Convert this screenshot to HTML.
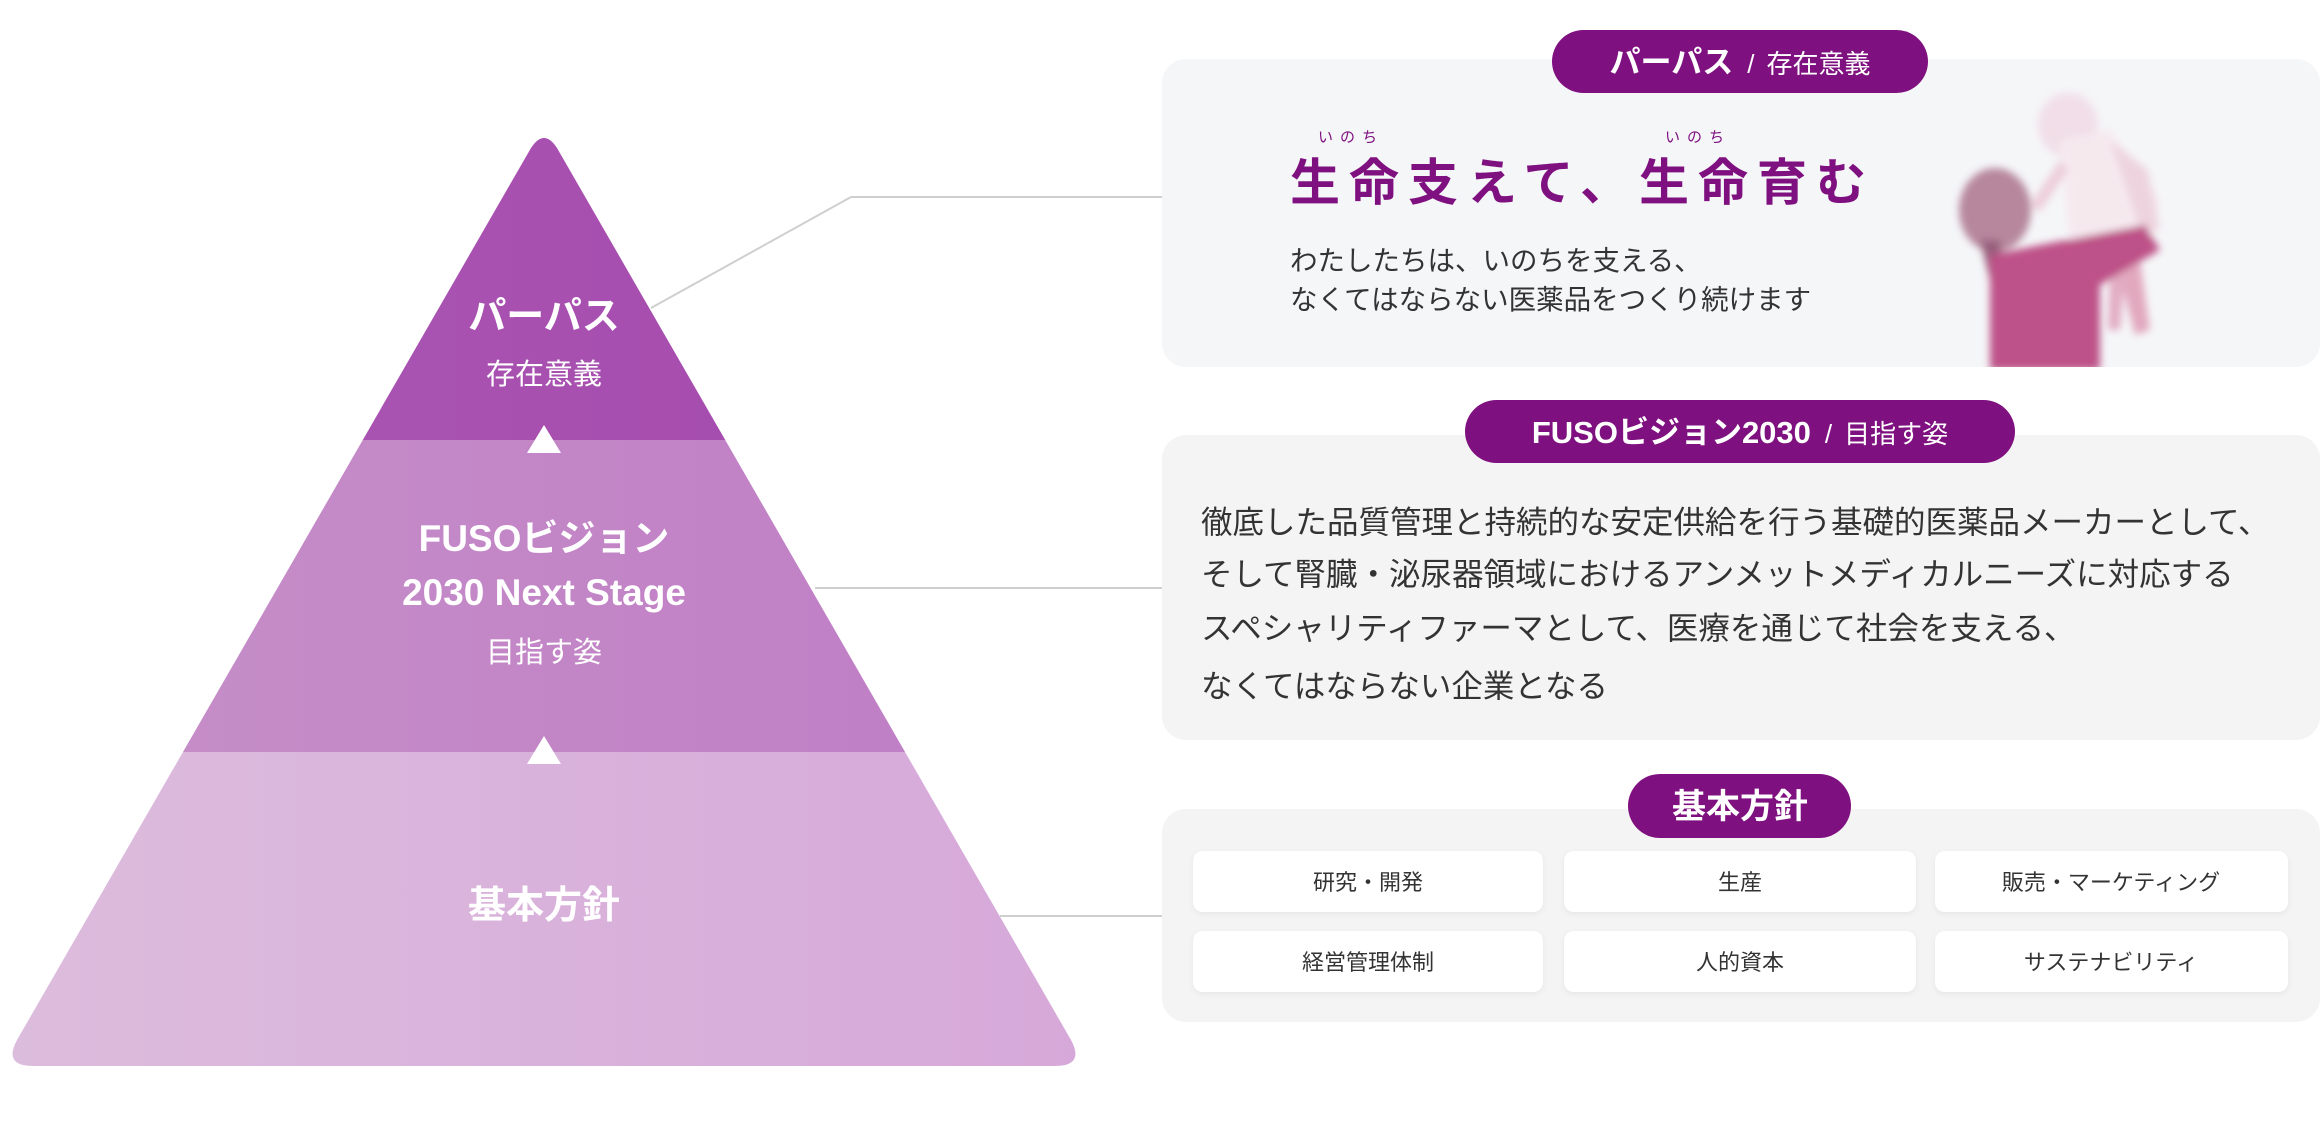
<!DOCTYPE html>
<html><head><meta charset="utf-8"><style>
html,body{margin:0;padding:0;background:#fff}
svg{display:block}
text{font-family:"Liberation Sans","Noto Sans CJK JP",sans-serif}
</style></head><body>
<svg width="2320" height="1140" viewBox="0 0 2320 1140" xmlns="http://www.w3.org/2000/svg">
<defs>
<linearGradient id="g1" x1="0" x2="1"><stop offset="0" stop-color="#ab58b4"/><stop offset="1" stop-color="#a448ac"/></linearGradient>
<linearGradient id="g2" x1="0" x2="1"><stop offset="0" stop-color="#c690c8"/><stop offset="1" stop-color="#bf7cc5"/></linearGradient>
<linearGradient id="g3" x1="0" x2="1"><stop offset="0" stop-color="#dcbcdd"/><stop offset="1" stop-color="#d6a8d9"/></linearGradient>
<clipPath id="tri"><path d="M531,148 Q544,128 557,148 L1071,1040 Q1085,1066 1055,1066 L33,1066 Q3,1066 17,1040 Z"/></clipPath>
<filter id="sh" x="-10%" y="-20%" width="120%" height="150%"><feDropShadow dx="0" dy="2" stdDeviation="3" flood-color="#000" flood-opacity="0.06"/></filter>
<filter id="bl"><feGaussianBlur stdDeviation="4"/></filter>
<clipPath id="p1"><rect x="1162" y="59" width="1158" height="308" rx="24"/></clipPath>
</defs>

<polyline points="651,308 851,197 1162,197" fill="none" stroke="#cfcfcf" stroke-width="2"/>
<line x1="815" y1="588" x2="1162" y2="588" stroke="#cfcfcf" stroke-width="2"/>
<line x1="1000" y1="916" x2="1162" y2="916" stroke="#cfcfcf" stroke-width="2"/>

<g clip-path="url(#tri)">
<rect x="0" y="120" width="1100" height="320" fill="url(#g1)"/>
<rect x="0" y="440" width="1100" height="312" fill="url(#g2)"/>
<rect x="0" y="752" width="1100" height="330" fill="url(#g3)"/>
</g>
<polygon points="544,425 561,453 527,453" fill="#fff"/>
<polygon points="544,736 561,764 527,764" fill="#fff"/>
<g fill="#fff" text-anchor="middle">
<text x="544" y="329" font-size="38" font-weight="bold">パーパス</text>
<text x="544" y="384" font-size="29">存在意義</text>
<text x="544" y="551" font-size="37" font-weight="bold">FUSOビジョン</text>
<text x="544" y="605" font-size="37" font-weight="bold">2030 Next Stage</text>
<text x="544" y="662" font-size="29">目指す姿</text>
<text x="544" y="918" font-size="38" font-weight="bold">基本方針</text>
</g>

<rect x="1162" y="59" width="1158" height="308" rx="24" fill="#f5f6f8"/>
<g clip-path="url(#p1)" filter="url(#bl)" opacity="0.9">
<ellipse cx="2068" cy="125" rx="30" ry="32" fill="#f1dce6"/>
<path d="M2060,140 L2110,130 L2160,200 L2150,250 L2070,250 Z" fill="#f6e8ee"/>
<path d="M2110,140 L2148,170 L2160,230 L2140,230 L2120,170 Z" fill="#edd0dc"/>
<path d="M2030,205 L2060,160 L2068,170 L2040,212 Z" fill="#ecc9d6"/>
<path d="M2118,270 L2140,260 L2150,330 L2135,335 Z" fill="#e0a0b8"/>
<path d="M2110,260 L2125,270 L2120,330 L2108,330 Z" fill="#e0a4bc"/>
<ellipse cx="1995" cy="210" rx="36" ry="42" fill="#b07c94"/>
<path d="M1980,240 L1995,300 L2005,300 L2000,240 Z" fill="#8e4f6e"/>
<path d="M1990,255 L2040,245 L2145,225 L2160,250 L2100,285 L2100,370 L1990,370 Z" fill="#b8417d"/>
</g>
<rect x="1552" y="30" width="376" height="63" rx="31.5" fill="#7f1080"/>
<text x="1740" y="73" fill="#fff" text-anchor="middle"><tspan font-size="31" font-weight="bold">パーパス</tspan><tspan font-size="26" dx="14">/</tspan><tspan font-size="26" dx="12">存在意義</tspan></text>
<text x="1290" y="200" font-size="50" font-weight="bold" fill="#7f1080" letter-spacing="9">生命支えて、生命育む</text>
<text x="1318" y="142" font-size="15" fill="#7f1080" letter-spacing="7">いのち</text>
<text x="1665" y="142" font-size="15" fill="#7f1080" letter-spacing="7">いのち</text>
<text x="1290" y="270" font-size="27.5" fill="#333">わたしたちは、いのちを支える、</text>
<text x="1290" y="309" font-size="27.5" fill="#333">なくてはならない医薬品をつくり続けます</text>

<rect x="1162" y="435" width="1158" height="305" rx="24" fill="#f4f4f4"/>
<rect x="1465" y="400" width="550" height="63" rx="31.5" fill="#7f1080"/>
<text x="1740" y="443" fill="#fff" text-anchor="middle"><tspan font-size="31" font-weight="bold">FUSOビジョン2030</tspan><tspan font-size="26" dx="14">/</tspan><tspan font-size="26" dx="12">目指す姿</tspan></text>
<g font-size="31.5" fill="#333">
<text x="1201" y="533">徹底した品質管理と持続的な安定供給を行う基礎的医薬品メーカーとして、</text>
<text x="1201" y="585">そして腎臓・泌尿器領域におけるアンメットメディカルニーズに対応する</text>
<text x="1201" y="639">スペシャリティファーマとして、医療を通じて社会を支える、</text>
<text x="1201" y="697">なくてはならない企業となる</text>
</g>

<rect x="1162" y="809" width="1158" height="213" rx="24" fill="#f4f4f4"/>
<rect x="1628" y="774" width="223" height="64" rx="32" fill="#7f1080"/>
<text x="1740" y="818" font-size="34" font-weight="bold" fill="#fff" text-anchor="middle">基本方針</text>
<g fill="#fff" filter="url(#sh)">
<rect x="1193" y="851" width="350" height="61" rx="10"/>
<rect x="1564" y="851" width="352" height="61" rx="10"/>
<rect x="1935" y="851" width="353" height="61" rx="10"/>
<rect x="1193" y="931" width="350" height="61" rx="10"/>
<rect x="1564" y="931" width="352" height="61" rx="10"/>
<rect x="1935" y="931" width="353" height="61" rx="10"/>
</g>
<g font-size="22" fill="#333" text-anchor="middle">
<text x="1368" y="890">研究・開発</text>
<text x="1740" y="890">生産</text>
<text x="2111" y="890">販売・マーケティング</text>
<text x="1368" y="970">経営管理体制</text>
<text x="1740" y="970">人的資本</text>
<text x="2111" y="970">サステナビリティ</text>
</g>
</svg>
</body></html>
